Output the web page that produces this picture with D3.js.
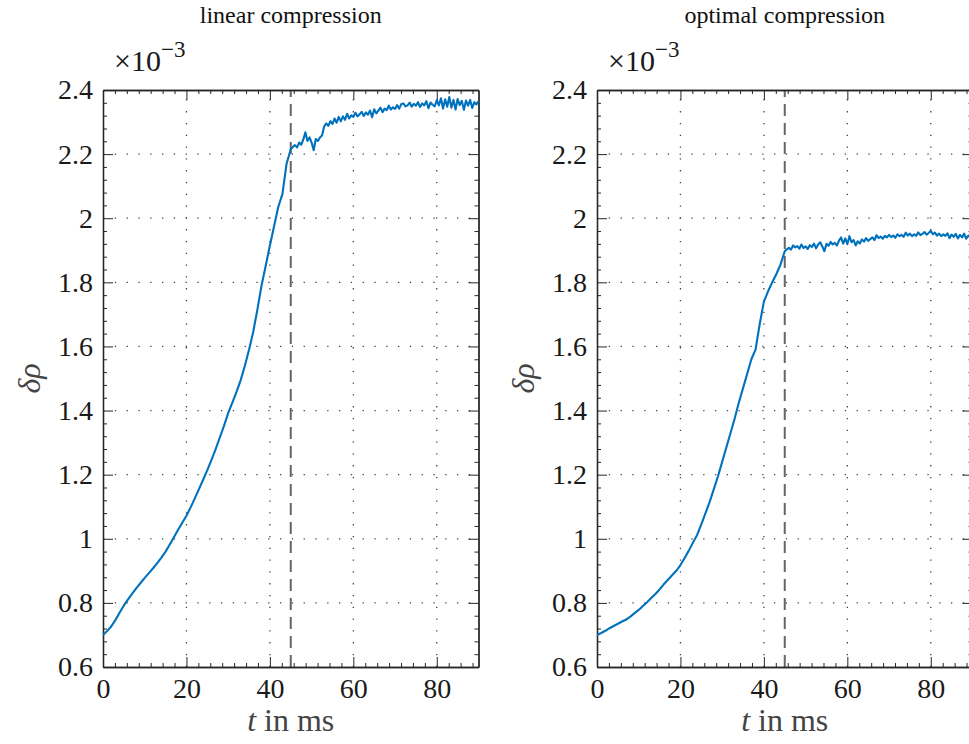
<!DOCTYPE html>
<head>
  <meta charset="utf-8">
  <script src="https://d3js.org/d3.v7.min.js"></script>
  <style>
    body { margin:0; background:#fff; }
    svg { display:block; }
    svg text { font-family:"Liberation Serif", "DejaVu Serif", "Times New Roman", Times, serif; }
    .axis path, .axis line { stroke:#262626; }
    .axis text { fill:#1a1a1a; font-size:28px; }
    .grid { stroke:#444; stroke-width:1.3; stroke-dasharray:1.3,10.5; }
    .switch { stroke:#666; stroke-width:2; stroke-dasharray:12,7; }
    .trace { fill:none; stroke:#0072BD; stroke-width:2.1; stroke-linejoin:round; }
    .title { fill:#111; font-size:24px; text-anchor:middle; }
    .label { fill:#444; font-size:32px; text-anchor:middle; }
    .mult { fill:#1a1a1a; font-size:30px; }
  </style>
</head>
<body>
  <div class="chart"></div>
  <script>
    const panelTitles = ['linear compression', 'optimal compression'];
    const xTicks = [0, 20, 40, 60, 80];
    const yTicks = [0.6, 0.8, 1, 1.2, 1.4, 1.6, 1.8, 2, 2.2, 2.4];
    const switchTime = 45;

    // delta rho in units of 1e-3, sampled every 1 ms from 0 to 45 ms
    const linearRise = [
      0.700, 0.712, 0.727, 0.747, 0.770, 0.792, 0.811, 0.829, 0.846, 0.862,
      0.878, 0.893, 0.908, 0.924, 0.941, 0.960, 0.982, 1.005, 1.028, 1.050,
      1.072, 1.098, 1.126, 1.155, 1.184, 1.214, 1.246, 1.280, 1.316, 1.352,
      1.392, 1.425, 1.458, 1.495, 1.540, 1.590, 1.645, 1.715, 1.790, 1.852,
      1.915, 1.975, 2.035, 2.075, 2.170, 2.215
    ];
    // every 0.5 ms from 45.5 to 90 ms
    const linearTail = [
      2.222, 2.228, 2.221, 2.236, 2.229, 2.245, 2.268, 2.241, 2.252, 2.236,
      2.212, 2.247, 2.241, 2.252, 2.258, 2.286, 2.296, 2.288, 2.303, 2.294,
      2.311, 2.298, 2.316, 2.302, 2.318, 2.307, 2.326, 2.311, 2.321, 2.316,
      2.329, 2.318, 2.324, 2.332, 2.319, 2.330, 2.323, 2.336, 2.315, 2.340,
      2.327, 2.336, 2.345, 2.331, 2.342, 2.337, 2.351, 2.339, 2.346, 2.341,
      2.353, 2.342, 2.356, 2.358, 2.349, 2.352, 2.361, 2.348, 2.357, 2.351,
      2.362, 2.347, 2.358, 2.352, 2.365, 2.343, 2.361, 2.354, 2.349, 2.368,
      2.352, 2.374, 2.342, 2.371, 2.348, 2.378, 2.345, 2.369, 2.339, 2.372,
      2.353, 2.366, 2.338, 2.367, 2.351, 2.369, 2.344, 2.362, 2.355, 2.365
    ];

    const optimalRise = [
      0.700, 0.706, 0.713, 0.721, 0.728, 0.735, 0.742, 0.748, 0.757, 0.768,
      0.778, 0.790, 0.802, 0.815, 0.828, 0.842, 0.858, 0.872, 0.886, 0.900,
      0.918, 0.940, 0.963, 0.988, 1.012, 1.045, 1.080, 1.115, 1.155, 1.195,
      1.240, 1.285, 1.330, 1.375, 1.425, 1.470, 1.515, 1.560, 1.590, 1.670,
      1.740, 1.772, 1.800, 1.826, 1.856, 1.897
    ];
    const optimalTail = [
      1.903, 1.908, 1.902, 1.915, 1.909, 1.913, 1.905, 1.918, 1.907, 1.912,
      1.904, 1.916, 1.910, 1.921, 1.906, 1.918, 1.925, 1.912, 1.897, 1.920,
      1.914, 1.926, 1.918, 1.923, 1.915, 1.930, 1.940, 1.921, 1.937, 1.919,
      1.944, 1.925, 1.932, 1.915, 1.928, 1.921, 1.934, 1.927, 1.938, 1.929,
      1.935, 1.940, 1.932, 1.947, 1.938, 1.943, 1.936, 1.945, 1.940, 1.948,
      1.941, 1.946, 1.939, 1.950, 1.944, 1.948, 1.942, 1.955, 1.946, 1.952,
      1.944, 1.950, 1.945, 1.956, 1.947, 1.951, 1.957, 1.949, 1.954, 1.961,
      1.950, 1.955, 1.946, 1.952, 1.944, 1.950, 1.945, 1.953, 1.938, 1.949,
      1.942, 1.951, 1.937, 1.948, 1.940, 1.952, 1.936, 1.946, 1.939, 1.944
    ];

    const riseTimes = d3.range(0, 46);
    const tailTimes = d3.range(45.5, 90.01, 0.5);

    const width = 969, height = 744;
    const plotW = 375.5, plotH = 577, plotTop = 90;
    const panelLeft = [103, 597];

    const panels = [
      { title: panelTitles[0], left: panelLeft[0], rise: linearRise, tail: linearTail },
      { title: panelTitles[1], left: panelLeft[1], rise: optimalRise, tail: optimalTail }
    ];

    const svg = d3.select('.chart')
      .append('svg')
        .attr('width', width)
        .attr('height', height);

    const x = d3.scaleLinear().domain([0, 90]).range([0, plotW]);
    const y = d3.scaleLinear().domain([0.6, 2.4]).range([plotH, 0]);

    const xMinor = d3.range(0, 90.01, 20 / 7).filter(v => Math.abs(v / 20 - Math.round(v / 20)) > 1e-6);
    const yMinor = d3.range(0.6, 2.401, 0.04).filter(v => Math.abs(v / 0.2 - Math.round(v / 0.2)) > 1e-6);

    panels.forEach(p => {
      const g = svg.append('g')
        .attr('transform', `translate(${p.left}, ${plotTop})`);

      // dotted grid
      g.selectAll('.vgrid')
        .data(xTicks.filter(d => d > 0))
        .join('line')
          .attr('class', 'grid')
          .attr('x1', d => x(d)).attr('x2', d => x(d))
          .attr('y1', plotH).attr('y2', 0);
      g.selectAll('.hgrid')
        .data(yTicks.slice(1, -1))
        .join('line')
          .attr('class', 'grid')
          .attr('y1', d => y(d)).attr('y2', d => y(d))
          .attr('x1', 0).attr('x2', plotW);

      // switching time
      g.append('line')
        .attr('class', 'switch')
        .attr('x1', x(switchTime)).attr('x2', x(switchTime))
        .attr('y1', plotH).attr('y2', 0);

      // box axes, ticks pointing inward
      const fmt = d => String(d);
      const axes = [
        g.append('g').attr('transform', `translate(0, ${plotH})`)
          .call(d3.axisBottom(x).tickValues(xTicks).tickSize(-10).tickSizeOuter(0).tickPadding(11).tickFormat(fmt)),
        g.append('g')
          .call(d3.axisTop(x).tickValues(xTicks).tickSize(-10).tickSizeOuter(0).tickFormat('')),
        g.append('g')
          .call(d3.axisLeft(y).tickValues(yTicks).tickSize(-10).tickSizeOuter(0).tickPadding(10).tickFormat(fmt)),
        g.append('g').attr('transform', `translate(${plotW}, 0)`)
          .call(d3.axisRight(y).tickValues(yTicks).tickSize(-10).tickSizeOuter(0).tickFormat('')),
        // minor ticks
        g.append('g').attr('transform', `translate(0, ${plotH})`)
          .call(d3.axisBottom(x).tickValues(xMinor).tickSize(-4).tickSizeOuter(0).tickFormat('')),
        g.append('g')
          .call(d3.axisTop(x).tickValues(xMinor).tickSize(-4).tickSizeOuter(0).tickFormat('')),
        g.append('g')
          .call(d3.axisLeft(y).tickValues(yMinor).tickSize(-4).tickSizeOuter(0).tickFormat('')),
        g.append('g').attr('transform', `translate(${plotW}, 0)`)
          .call(d3.axisRight(y).tickValues(yMinor).tickSize(-4).tickSizeOuter(0).tickFormat(''))
      ];
      axes.forEach(a => a.attr('class', 'axis').attr('font-family', null).attr('font-size', null));
      g.selectAll('.axis .domain').attr('stroke-width', 1.3);

      // measured trace
      const pts = riseTimes.map((t, i) => ({ t, v: p.rise[i] }))
        .concat(tailTimes.map((t, i) => ({ t, v: p.tail[i] })));
      const line = d3.line().x(d => x(d.t)).y(d => y(d.v));
      g.append('path')
        .datum(pts)
        .attr('class', 'trace')
        .attr('d', line);

      // texts
      svg.append('text')
        .attr('class', 'title')
        .attr('x', p.left + plotW / 2)
        .attr('y', 23)
        .text(p.title);

      const m = svg.append('text')
        .attr('class', 'mult')
        .attr('x', p.left + 11)
        .attr('y', 71);
      m.append('tspan').text('×10');
      m.append('tspan').attr('dy', -14).style('font-size', '23px').text('−3');

      const xl = svg.append('text')
        .attr('class', 'label')
        .attr('x', p.left + plotW / 2)
        .attr('y', 731);
      xl.append('tspan').style('font-style', 'italic').text('t');
      xl.append('tspan').text(' in ms');

      svg.append('text')
        .attr('class', 'label')
        .attr('transform', `translate(${p.left - 63}, ${plotTop + plotH / 2}) rotate(-90)`)
        .style('font-style', 'italic')
        .text('δρ');
    });
  </script>
</body>
